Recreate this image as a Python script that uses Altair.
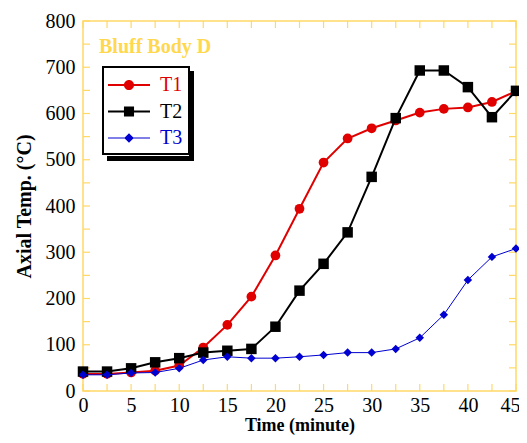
import altair as alt
import pandas as pd

# ---- data ----
time = [0, 2.5, 5, 7.5, 10, 12.5, 15, 17.5, 20, 22.5, 25, 27.5, 30, 32.5, 35, 37.5, 40, 42.5, 45]
t1 = [37, 37, 40, 44, 55, 94, 143, 204, 293, 394, 494, 546, 568, 585, 602, 610, 613, 625, 648]
t2 = [42, 42, 49, 62, 71, 83, 87, 91, 139, 217, 275, 343, 463, 590, 693, 693, 657, 592, 649]
t3 = [35, 35, 39, 40, 49, 67, 74, 71, 71, 74, 78, 83, 83, 91, 115, 165, 240, 290, 308]

series_names = ["T1", "T2", "T3"]
series_colors = ["#e00000", "#000000", "#0000d0"]

x_label_values = [0, 5, 10, 15, 20, 25, 30, 35, 40, 45]
y_label_values = [0, 100, 200, 300, 400, 500, 600, 700, 800]
x_tick_values = [0, 2.5, 5, 7.5, 10, 12.5, 15, 17.5, 20, 22.5, 25, 27.5, 30, 32.5, 35, 37.5, 40, 42.5, 45]
y_tick_values = [0, 50, 100, 150, 200, 250, 300, 350, 400, 450, 500, 550, 600, 650, 700, 750, 800]
panel_label = ["Bluff Body D"]

# ---- styling ----
W, H = 433, 370
FRAME = "#ffd966"
TITLE_YELLOW = "#ffd84d"
FONT = "Liberation Serif"
TL = 7

df = pd.DataFrame({
    "time": time * 3,
    "temp": t1 + t2 + t3,
    "series": ["T1"] * len(time) + ["T2"] * len(time) + ["T3"] * len(time),
})
xt = pd.DataFrame({"time": x_tick_values})
yt = pd.DataFrame({"temp": y_tick_values})
lab = pd.DataFrame({"label": panel_label})

xscale = alt.Scale(domain=[0, 45], nice=False, zero=False)
yscale = alt.Scale(domain=[0, 800], nice=False, zero=False)

xaxis = alt.Axis(values=x_label_values, title="Time (minute)", ticks=False, domain=False, grid=False,
                 labelFont=FONT, labelFontSize=20, labelColor="black", labelPadding=4,
                 labelOffset={"condition": {"test": "datum.value == 45", "value": -6}, "value": 0},
                 titleFont=FONT, titleFontSize=18, titleFontWeight="bold", titleColor="black",
                 titlePadding=1, labelFlush=False)
yaxis = alt.Axis(values=y_label_values, title="Axial Temp. (°C)", ticks=False, domain=False, grid=False,
                 labelFont=FONT, labelFontSize=20, labelColor="black", labelPadding=8,
                 titleFont=FONT, titleFontSize=20, titleFontWeight="bold", titleColor="black",
                 titlePadding=11, labelFlush=False)

X = alt.X("time:Q", scale=xscale, axis=xaxis)
Y = alt.Y("temp:Q", scale=yscale, axis=yaxis)

# frame ticks (inward) on four sides
tick_bottom = alt.Chart(xt).mark_rule(color=FRAME, strokeWidth=1.2).encode(
    x=X, y=alt.value(H - TL), y2=alt.value(H))
tick_top = alt.Chart(xt).mark_rule(color=FRAME, strokeWidth=1.2).encode(
    x=X, y=alt.value(0), y2=alt.value(TL))
tick_left = alt.Chart(yt).mark_rule(color=FRAME, strokeWidth=1.2).encode(
    y=Y, x=alt.value(0), x2=alt.value(TL))
tick_right = alt.Chart(yt).mark_rule(color=FRAME, strokeWidth=1.2).encode(
    y=Y, x=alt.value(W - TL), x2=alt.value(W))


def series_layer(name, color, shape, size, sw):
    return alt.Chart(df).transform_filter(alt.datum.series == name).mark_line(
        color=color, strokeWidth=sw,
        point=alt.OverlayMarkDef(shape=shape, size=size, filled=True, color=color, opacity=1),
    ).encode(x=X, y=Y)


l1 = series_layer("T1", series_colors[0], "circle", 95, 2)
l2 = series_layer("T2", series_colors[1], "square", 110, 2)
l3 = series_layer("T3", series_colors[2], "diamond", 72, 1)

panel_text = alt.Chart(lab).mark_text(
    align="left", baseline="alphabetic", font=FONT, fontSize=20, fontWeight="bold", color=TITLE_YELLOW,
).encode(text="label:N", x=alt.value(16), y=alt.value(32))

# drop shadow (right and bottom strips) behind the legend box
shadow_right = alt.Chart(lab).mark_rule(color="black", strokeWidth=5).encode(
    x=alt.value(108.5), y=alt.value(50), y2=alt.value(140))
shadow_bottom = alt.Chart(lab).mark_rule(color="black", strokeWidth=5).encode(
    y=alt.value(137.5), x=alt.value(24), x2=alt.value(111))

# legend symbols: line segment + marker (unit: 12px)
p_circle = ("M-1.75,-0.085H-0.3V0.085H-1.75Z M0.3,-0.085H1.75V0.085H0.3Z "
            "M0.42,0A0.42,0.42 0 1,1 -0.42,0A0.42,0.42 0 1,1 0.42,0Z")
p_square = ("M-1.75,-0.085H-0.3V0.085H-1.75Z M0.3,-0.085H1.75V0.085H0.3Z "
            "M-0.42,-0.42H0.42V0.42H-0.42Z")
p_diamond = ("M-1.75,-0.045H-0.3V0.045H-1.75Z M0.3,-0.045H1.75V0.045H0.3Z "
             "M0,-0.4L0.4,0L0,0.4L-0.4,0Z")

label_color_expr = alt.ExprRef(
    "datum.label == 'T1' ? '#e00000' : (datum.label == 'T2' ? '#000000' : '#0000d0')")
leg = alt.Legend(title=None, orient="none", legendX=20, legendY=46,
                 labelFont=FONT, labelFontSize=20, labelColor=label_color_expr,
                 symbolSize=576, symbolStrokeWidth=0, labelOffset=19, symbolOffset=8,
                 padding=6, rowPadding=4.5)

legend_layer = alt.Chart(df).transform_filter("datum.time < -100").mark_point(filled=True, opacity=1).encode(
    x=X, y=Y,
    color=alt.Color("series:N", scale=alt.Scale(domain=series_names, range=series_colors), legend=leg),
    shape=alt.Shape("series:N", scale=alt.Scale(domain=series_names, range=[p_circle, p_square, p_diamond]),
                    legend=leg),
)

chart = alt.layer(
    tick_bottom, tick_top, tick_left, tick_right, l1, l2, l3, panel_text,
    shadow_right, shadow_bottom, legend_layer,
).properties(
    width=W, height=H,
    autosize=alt.AutoSizeParams(type="none"),
    padding={"left": 75, "top": 13, "right": 3, "bottom": 44},
).configure_view(
    stroke=FRAME, strokeWidth=1.5,
).configure_legend(
    strokeColor="black", strokeWidth=2, fillColor="white",
)

chart.save("out.html", embed_options={"renderer": "svg", "actions": False})
